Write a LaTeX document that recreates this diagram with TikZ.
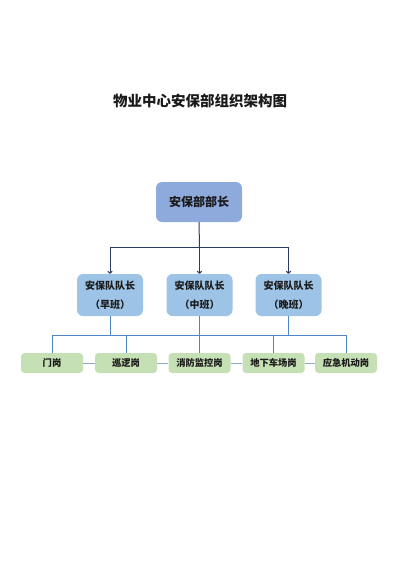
\documentclass[tikz,border=0pt]{standalone}
\usepackage{fontspec}
\setmainfont{Noto Sans CJK SC}
\usetikzlibrary{arrows.meta}
\definecolor{topfill}{HTML}{8EA9DB}
\definecolor{midfill}{HTML}{9DC3E6}
\definecolor{botfill}{HTML}{C5E0B4}
\definecolor{navyline}{HTML}{2B3A67}
\definecolor{busline}{HTML}{4F86C6}
\definecolor{sideline}{HTML}{8FA8C8}
\definecolor{txt}{HTML}{1A1A1A}
\tikzset{
  topbox/.style={fill=topfill,rounded corners=6pt,minimum width=86pt,minimum height=40pt,inner sep=0pt,font=\fontsize{12}{14}\selectfont\bfseries,text=txt},
  midbox/.style={fill=midfill,rounded corners=6pt,minimum width=66pt,minimum height=42pt,inner sep=0pt,align=center,font=\fontsize{10}{19}\selectfont\bfseries,text=txt},
  botbox/.style={fill=botfill,rounded corners=3.5pt,minimum width=62pt,minimum height=20pt,inner sep=0pt,font=\fontsize{9.3}{11}\selectfont\bfseries,text=txt},
  navy/.style={draw=navyline,line width=1pt},
  bus/.style={draw=busline,line width=1pt},
  side/.style={draw=sideline,line width=1pt},
  arr/.style={-{To[length=3pt,width=5pt]}}
}
\begin{document}
\begin{tikzpicture}[x=1pt,y=-1pt]
\useasboundingbox (0,0) rectangle (400,565);
\node[font=\fontsize{14.5}{16}\selectfont\bfseries,text=txt] (title) at (200,101) {物业中心安保部组织架构图};
\node[topbox] (top) at (199,202) {安保部部长};
\node[midbox] (m1) at (110,295) {安保队队长\\（早班）};
\node[midbox] (m2) at (199.5,295) {安保队队长\\（中班）};
\node[midbox] (m3) at (288.5,295) {安保队队长\\（晚班）};
\node[botbox] (b1) at (52,363) {门岗};
\node[botbox] (b2) at (126,363) {巡逻岗};
\node[botbox] (b3) at (199.5,363) {消防监控岗};
\node[botbox] (b4) at (273.5,363) {地下车场岗};
\node[botbox] (b5) at (346,363) {应急机动岗};
\coordinate (j1) at (199.5,247);
\coordinate (busy) at (0,335);
\draw[navy] (top.south) -- (j1);
\draw[navy,arr] (j1) -| (m1.north);
\draw[navy,arr] (j1) -| (m3.north);
\draw[navy,arr] (j1) -- (m2.north);
\draw[bus] (b1.north) -- (b1.north |- busy) -- (b5.north |- busy) -- (b5.north);
\draw[bus] (m2.south) -- (b3.north);
\draw[bus] (m1.south) -- (m1.south |- busy);
\draw[bus] (m3.south) -- (m3.south |- busy);
\draw[bus] (b2.north) -- (b2.north |- busy);
\draw[bus] (b4.north) -- (b4.north |- busy);
\draw[side] (b1) -- (b2);
\draw[side] (b2) -- (b3);
\draw[side] (b3) -- (b4);
\draw[side] (b4) -- (b5);
\end{tikzpicture}
\end{document}
